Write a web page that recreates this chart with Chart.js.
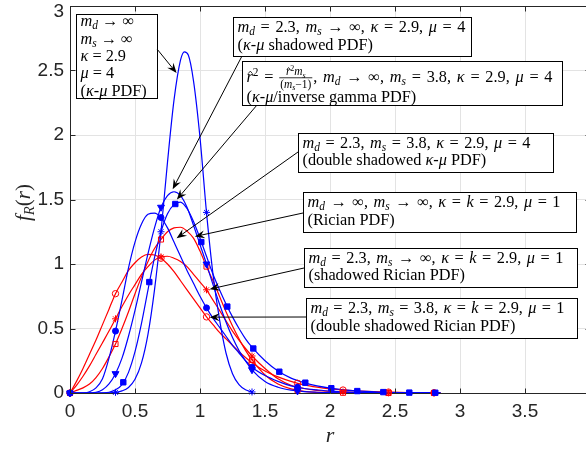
<!DOCTYPE html>
<html>
<head>
<meta charset="utf-8">
<script src="https://cdn.jsdelivr.net/npm/chart.js@4.4.1/dist/chart.umd.min.js"></script>
<style>
html, body { margin: 0; padding: 0; background: #fff; overflow: hidden; }
canvas { display: block; }
</style>
</head>
<body>
<canvas id="chart" width="600" height="451"></canvas>
<script>
// r grid shared by six of the curves
var rGrid = [0, 0.05, 0.1, 0.15, 0.2, 0.25, 0.3, 0.35, 0.4, 0.45, 0.5, 0.55, 0.6, 0.65, 0.7, 0.75, 0.8, 0.85, 0.9, 0.95,
             1, 1.05, 1.1, 1.15, 1.2, 1.25, 1.3, 1.35, 1.4, 1.5, 1.6, 1.7, 1.8, 1.9, 2, 2.2, 2.4, 2.6, 2.85];

var fShadKmu = [0, 0, 0, 0.001, 0.005, 0.025, 0.07, 0.15, 0.27, 0.44, 0.64, 0.86, 1.08, 1.28, 1.44, 1.53, 1.56, 1.53, 1.44, 1.3,
                1.15, 1.0, 0.84, 0.69, 0.55, 0.43, 0.33, 0.25, 0.18, 0.09, 0.045, 0.022, 0.011, 0.006, 0.003, 0.001, 0, 0, 0];
var fKmuIG = [0, 0, 0, 0, 0, 0.001, 0.006, 0.025, 0.065, 0.16, 0.32, 0.54, 0.8, 1.05, 1.25, 1.39, 1.46, 1.48, 1.43, 1.33,
              1.2, 1.06, 0.92, 0.8, 0.69, 0.59, 0.5, 0.42, 0.355, 0.25, 0.17, 0.115, 0.08, 0.055, 0.038, 0.016, 0.007, 0.003, 0.002];
var fDsKmu = [0, 0, 0, 0.01, 0.04, 0.11, 0.27, 0.48, 0.72, 0.97, 1.17, 1.31, 1.385, 1.395, 1.36, 1.28, 1.17, 1.06, 0.95, 0.85,
              0.75, 0.66, 0.58, 0.51, 0.44, 0.37, 0.31, 0.25, 0.2, 0.135, 0.09, 0.055, 0.035, 0.024, 0.015, 0.006, 0.003, 0.001, 0];
var fRice = [0, 0.02, 0.04, 0.07, 0.12, 0.19, 0.28, 0.38, 0.5, 0.63, 0.77, 0.9, 1.02, 1.12, 1.19, 1.25, 1.28, 1.285, 1.255, 1.2,
             1.1, 0.98, 0.87, 0.75, 0.63, 0.52, 0.42, 0.33, 0.256, 0.14, 0.07, 0.032, 0.013, 0.005, 0.002, 0, 0, 0, 0];
var fShRice = [0, 0.06, 0.13, 0.21, 0.3, 0.39, 0.48, 0.575, 0.67, 0.76, 0.84, 0.92, 0.98, 1.03, 1.055, 1.06, 1.045, 1.02, 0.98, 0.92,
               0.86, 0.8, 0.72, 0.64, 0.56, 0.48, 0.41, 0.345, 0.287, 0.19, 0.11, 0.06, 0.035, 0.02, 0.012, 0.004, 0.001, 0, 0];
var fDsRice = [0, 0.09, 0.19, 0.3, 0.41, 0.53, 0.65, 0.77, 0.86, 0.95, 1.01, 1.055, 1.075, 1.07, 1.045, 1.0, 0.94, 0.87, 0.8, 0.73,
               0.66, 0.59, 0.53, 0.47, 0.42, 0.37, 0.32, 0.275, 0.235, 0.17, 0.125, 0.09, 0.063, 0.045, 0.032, 0.016, 0.008, 0.004, 0.0015];

// narrow kappa-mu curve has its own grid
var rKmu = [0, 0.2, 0.3, 0.35, 0.4, 0.45, 0.5, 0.55, 0.6, 0.65, 0.7, 0.75, 0.8, 0.85, 0.88, 0.91, 0.95, 1, 1.05, 1.1, 1.15, 1.2, 1.25, 1.3, 1.35, 1.4];
var fKmu = [0, 0, 0.001, 0.005, 0.016, 0.043, 0.106, 0.233, 0.457, 0.8, 1.25, 1.79, 2.27, 2.58, 2.645, 2.62, 2.42, 1.98, 1.4, 0.92, 0.57, 0.31, 0.15, 0.065, 0.025, 0.008];

// marker samples
var rMk = [0, 0.35, 0.7, 1.05, 1.4, 1.75, 2.1, 2.45, 2.8];
var mkRice = [0, 0.38, 1.19, 0.98, 0.256, 0.022, 0.002, 0, 0];
var mkShRice = [0, 0.575, 1.055, 0.8, 0.287, 0.046, 0.008, 0.001, 0];
var mkDsRice = [0, 0.77, 1.045, 0.59, 0.235, 0.075, 0.023, 0.007, 0.002];
var mkKmu = [0, 0.005, 1.25, 1.4, 0.008];
var mkShadKmu = [0, 0.15, 1.44, 1.0, 0.18, 0.016];
var mkDsKmu = [0, 0.48, 1.36, 0.66, 0.2, 0.045];
var rMkSq = [0.41, 0.61, 0.81, 1.01, 1.21, 1.41, 1.61, 1.81, 2.01, 2.21, 2.41, 2.61, 2.81];
var mkKmuIG = [0.083, 0.86, 1.465, 1.17, 0.67, 0.345, 0.165, 0.08, 0.037, 0.015, 0.007, 0.003, 0.002];

var xTickVals = [0, 0.5, 1, 1.5, 2, 2.5, 3, 3.5, 4];
var xTickLabels = ['0', '0.5', '1', '1.5', '2', '2.5', '3', '3.5', ''];
var yTickVals = [0, 0.5, 1, 1.5, 2, 2.5, 3];
var yTickLabels = ['0', '0.5', '1', '1.5', '2', '2.5', '3'];

var SANS = '"Liberation Sans", Arial, sans-serif';
var SERIF = '"Liberation Serif", "Times New Roman", serif';
var BLUE = '#0000ff', RED = '#ff0000', AXIS = '#262626';

// text boxes: [text, math mode, line centre y, target width]
var notes = [
  { box: [76, 14, 157, 98], from: [157, 49], to: [0.82, 2.48],
    lines: [['m_d → ∞', 1, 21], ['m_s → ∞', 1, 38.5], ['κ = 2.9', 1, 56], ['μ = 4', 1, 73], ['(κ-μ PDF)', 0, 90.5]] },
  { box: [233, 17, 471, 56], from: [242, 56], to: [0.79, 1.58],
    lines: [['m_d = 2.3, m_s → ∞, κ = 2.9, μ = 4', 1, 27, 228], ['(κ-μ shadowed PDF)', 0, 44.5]] },
  { box: [242, 61, 562, 105], from: [257, 105], to: [0.822, 1.5],
    lines: [['~r^2 = {~r^2m_s|(m_s−1)}, m_d → ∞, m_s = 3.8, κ = 2.9, μ = 4', 1, 77, 306], ['(κ-μ/inverse gamma PDF)', 0, 97]] },
  { box: [298, 133, 553, 172], from: [298, 152], to: [0.82, 1.2],
    lines: [['m_d = 2.3, m_s = 3.8, κ = 2.9, μ = 4', 1, 142.5, 228], ['(double shadowed κ-μ PDF)', 0, 160]] },
  { box: [303, 192, 576, 232], from: [303, 213], to: [0.96, 1.213],
    lines: [['m_d → ∞, m_s → ∞, κ = k = 2.9, μ = 1', 1, 202, 253], ['(Rician PDF)', 0, 219.5]] },
  { box: [304, 248, 577, 287], from: [304, 268], to: [1.074, 0.805],
    lines: [['m_d = 2.3, m_s → ∞, κ = k = 2.9, μ = 1', 1, 257.5, 255], ['(shadowed Rician PDF)', 0, 275]] },
  { box: [306, 298, 577, 338], from: [306, 317], to: [1.074, 0.588],
    lines: [['m_d = 2.3, m_s = 3.8, κ = k = 2.9, μ = 1', 1, 308, 254], ['(double shadowed Rician PDF)', 0, 326]] }
];

function pts(rs, fs) {
  return rs.map(function (r, i) { return { x: r, y: fs[i] }; });
}

function curve(rs, fs, color) {
  return { data: pts(rs, fs), showLine: true, borderColor: color, borderWidth: 1.2,
           pointRadius: 0, cubicInterpolationMode: 'monotone', order: 2 };
}

function marks(rs, fs, color, style, radius, filled, rot) {
  return { data: pts(rs, fs), showLine: false, pointStyle: style, pointRadius: radius,
           pointRotation: rot || 0, borderColor: color, pointBorderWidth: 1,
           backgroundColor: filled ? color : 'rgba(0,0,0,0)', clip: false, order: 1 };
}

// small rich-text writer: _x subscript, ^x superscript, ~x hat, {num|den} fraction
function rich(ctx, s, x, base, size, math, sp, draw) {
  var cx = x, i = 0;
  while (i < s.length) {
    var ch = s[i];
    if (ch === '{') {
      var end = s.indexOf('}', i);
      var parts = s.slice(i + 1, end).split('|');
      var fsz = size * 0.7;
      var wn = rich(ctx, parts[0], 0, 0, fsz, math, 0, false);
      var wd = rich(ctx, parts[1], 0, 0, fsz, math, 0, false);
      var w = Math.max(wn, wd) + 2;
      if (draw) {
        var ax = base - size * 0.27;
        rich(ctx, parts[0], cx + (w - wn) / 2, ax - 2.5, fsz, math, 0, true);
        rich(ctx, parts[1], cx + (w - wd) / 2, ax + fsz * 0.78 + 1.5, fsz, math, 0, true);
        ctx.fillRect(cx, ax - 0.4, w, 0.8);
      }
      cx += w + 1;
      i = end + 1;
      continue;
    }
    var mode = '';
    if (ch === '_' || ch === '^' || ch === '~') { mode = ch; ch = s[++i]; }
    var ital = /[κμ]/.test(ch) || (math && /[a-zA-Z]/.test(ch));
    var fs = (mode === '_' || mode === '^') ? size * 0.7 : size;
    ctx.font = (ital ? 'italic ' : '') + fs + 'px ' + SERIF;
    var dy = mode === '_' ? size * 0.2 : (mode === '^' ? -size * 0.36 : 0);
    var cw = ctx.measureText(ch).width;
    if (draw) {
      ctx.fillText(ch, cx, base + dy);
      if (mode === '~') {
        ctx.beginPath();
        ctx.moveTo(cx + cw * 0.25, base - size * 0.52);
        ctx.lineTo(cx + cw * 0.6, base - size * 0.68);
        ctx.lineTo(cx + cw * 0.95, base - size * 0.52);
        ctx.lineWidth = 0.8;
        ctx.stroke();
      }
    }
    cx += cw + (ch === ' ' ? sp : 0);
    i++;
  }
  return cx - x;
}

function arrow(ctx, x0, y0, x1, y1) {
  var ang = Math.atan2(y1 - y0, x1 - x0);
  var L = 10, W = 4, N = 6.5;
  ctx.beginPath();
  ctx.moveTo(x0, y0);
  ctx.lineTo(x1 - N * Math.cos(ang), y1 - N * Math.sin(ang));
  ctx.lineWidth = 1;
  ctx.stroke();
  ctx.save();
  ctx.translate(x1, y1);
  ctx.rotate(ang);
  ctx.beginPath();
  ctx.moveTo(0, 0);
  ctx.lineTo(-L, W);
  ctx.lineTo(-N, 0);
  ctx.lineTo(-L, -W);
  ctx.closePath();
  ctx.fill();
  ctx.restore();
}

var decor = {
  id: 'decor',
  afterDraw: function (chart) {
    var ctx = chart.ctx, a = chart.chartArea;
    var xs = chart.scales.x, ys = chart.scales.y;
    var L = Math.round(a.left) + 0.5, R = Math.round(a.right) + 0.5;
    var T = Math.round(a.top) + 0.5, B = Math.round(a.bottom) + 0.5;
    ctx.save();

    // box outline and inward ticks
    ctx.strokeStyle = AXIS;
    ctx.lineWidth = 1;
    ctx.beginPath();
    ctx.moveTo(L, T); ctx.lineTo(R, T); ctx.lineTo(R, B);
    xTickVals.forEach(function (v) {
      var px = Math.round(xs.getPixelForValue(v)) + 0.5;
      ctx.moveTo(px, B); ctx.lineTo(px, B - 5);
      ctx.moveTo(px, T); ctx.lineTo(px, T + 5);
    });
    yTickVals.forEach(function (v) {
      var py = Math.round(ys.getPixelForValue(v)) + 0.5;
      ctx.moveTo(L, py); ctx.lineTo(L + 5, py);
      ctx.moveTo(R, py); ctx.lineTo(R - 5, py);
    });
    ctx.stroke();

    // top y label nudged down so it stays inside the figure
    ctx.fillStyle = AXIS;
    ctx.font = '19px ' + SANS;
    ctx.textAlign = 'right';
    ctx.textBaseline = 'middle';
    ctx.fillText(yTickLabels[yTickLabels.length - 1], a.left - 6, a.top + 5.5);
    ctx.textBaseline = 'alphabetic';

    // axis titles
    ctx.strokeStyle = AXIS;
    ctx.font = 'italic 22px ' + SERIF;
    ctx.textAlign = 'center';
    ctx.fillText('r', (a.left + a.right) / 2, a.bottom + 49);
    ctx.textAlign = 'left';
    ctx.save();
    ctx.translate(a.left - 47, (a.top + a.bottom) / 2);
    ctx.rotate(-Math.PI / 2);
    var yt = 'f_R(r)';
    var wt = rich(ctx, yt, 0, 0, 21, 1, 0, false);
    rich(ctx, yt, -wt / 2 - 3, 7, 21, 1, 0, true);
    ctx.restore();

    // annotation boxes and arrows
    var size = 16.3;
    notes.forEach(function (n) {
      var b = n.box;
      ctx.fillStyle = '#fff';
      ctx.fillRect(b[0], b[1], b[2] - b[0], b[3] - b[1]);
      ctx.strokeStyle = '#000';
      ctx.lineWidth = 1;
      ctx.strokeRect(b[0] + 0.5, b[1] + 0.5, b[2] - b[0], b[3] - b[1]);
      ctx.fillStyle = '#000';
      n.lines.forEach(function (ln) {
        var sp = 0;
        if (ln[3]) {
          var nat = rich(ctx, ln[0], 0, 0, size, ln[1], 0, false);
          var nsp = ln[0].split(' ').length - 1;
          sp = Math.max(-1, (ln[3] - nat) / nsp);
        }
        rich(ctx, ln[0], b[0] + 4.5, ln[2] + size * 0.32, size, ln[1], sp, true);
      });
      ctx.strokeStyle = '#000';
      ctx.fillStyle = '#000';
      arrow(ctx, n.from[0], n.from[1], xs.getPixelForValue(n.to[0]), ys.getPixelForValue(n.to[1]));
    });
    ctx.restore();
  }
};

var ctx = document.getElementById('chart').getContext('2d');
var chart = new Chart(ctx, {
  type: 'scatter',
  data: {
    datasets: [
      curve(rKmu, fKmu, BLUE),
      curve(rGrid, fShadKmu, BLUE),
      curve(rGrid, fKmuIG, BLUE),
      curve(rGrid, fDsKmu, BLUE),
      curve(rGrid, fRice, RED),
      curve(rGrid, fShRice, RED),
      curve(rGrid, fDsRice, RED),
      marks(rMk.slice(0, 5), mkKmu, BLUE, 'star', 3.5, true),
      marks(rMk.slice(0, 6), mkShadKmu, BLUE, 'triangle', 4, true, 180),
      marks(rMkSq, mkKmuIG, BLUE, 'rect', 3.8, true),
      marks(rMk.slice(0, 6), mkDsKmu, BLUE, 'circle', 3, true),
      marks(rMk, mkRice, RED, 'rect', 3.6, false),
      marks(rMk, mkShRice, RED, 'star', 3.5, false),
      marks(rMk, mkDsRice, RED, 'circle', 3.2, false)
    ]
  },
  options: {
    responsive: false,
    animation: false,
    events: [],
    layout: { padding: { top: 6, right: 10, left: 0, bottom: 0 } },
    plugins: { legend: { display: false }, tooltip: { enabled: false } },
    scales: {
      x: {
        type: 'linear', min: 0, max: 4,
        afterBuildTicks: function (s) { s.ticks = xTickVals.map(function (v) { return { value: v }; }); },
        afterFit: function (s) { s.height = 58; s.paddingLeft = 0; s.paddingRight = 0; },
        grid: { color: '#e3e3e3', lineWidth: 1, drawTicks: false },
        border: { color: AXIS, width: 1 },
        ticks: {
          autoSkip: false, maxRotation: 0, padding: 7, color: AXIS,
          font: { family: SANS, size: 19 },
          callback: function (v, i) { return xTickLabels[i]; }
        }
      },
      y: {
        type: 'linear', min: 0, max: 3,
        afterBuildTicks: function (s) { s.ticks = yTickVals.map(function (v) { return { value: v }; }); },
        afterFit: function (s) { s.width = 70; s.paddingTop = 0; s.paddingBottom = 0; },
        grid: { color: '#e3e3e3', lineWidth: 1, drawTicks: false },
        border: { color: AXIS, width: 1 },
        ticks: {
          padding: 6, color: AXIS,
          font: { family: SANS, size: 19 },
          // the top label is drawn by the decor plugin
          callback: function (v, i) { return i === yTickLabels.length - 1 ? '' : yTickLabels[i]; }
        }
      }
    }
  },
  plugins: [decor]
});
</script>
</body>
</html>
